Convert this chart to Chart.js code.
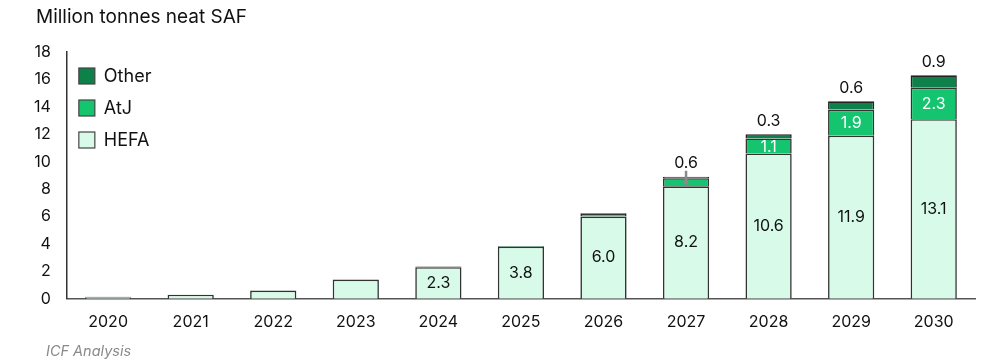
<!DOCTYPE html>
<html>
<head>
<meta charset="utf-8">
<script src="https://cdn.jsdelivr.net/npm/chart.js@4"></script>
<style>
  body { margin: 0; background: #fff; font-family: Inter, sans-serif; }
  #wrap { position: relative; width: 988px; height: 364px; }
  #title { position: absolute; left: 36px; top: 5px; font-size: 19px; color: #111; }
  #source { position: absolute; left: 46px; top: 342px; font-size: 14.5px; font-style: italic; color: #8a8a8a; }
</style>
</head>
<body>
<div id="wrap">
  <canvas id="safChart" width="988" height="364"></canvas>
  <div id="title">Million tonnes neat SAF</div>
  <div id="source">ICF Analysis</div>
</div>
<script>
const years = ['2020', '2021', '2022', '2023', '2024', '2025', '2026', '2027', '2028', '2029', '2030'];
const hefa  = [0.1, 0.3, 0.6, 1.4, 2.3, 3.8, 6.0, 8.2, 10.6, 11.9, 13.1];
const atj   = [0, 0, 0, 0, 0, 0, 0.2, 0.6, 1.1, 1.9, 2.3];
const other = [0.05, 0, 0, 0, 0.05, 0.05, 0.05, 0.1, 0.3, 0.6, 0.9];
const yTicks = [0, 2, 4, 6, 8, 10, 12, 14, 16, 18];

// which values get a label, and where
const hefaShown  = [false, false, false, false, true, true, true, true, true, true, true];
const atjInside  = [false, false, false, false, false, false, false, false, true, true, true];
const atjAbove   = [false, false, false, false, false, false, false, true, false, false, false];
const otherAbove = [false, false, false, false, false, false, false, false, true, true, true];

const FONT = 'Inter, sans-serif';

// data labels drawn on top of the bars
const labelPlugin = {
    id: 'segLabels',
    afterDatasetsDraw(chart) {
        const ctx = chart.ctx;
        const y = chart.scales.y;
        ctx.save();
        ctx.font = '16px ' + FONT;
        ctx.textAlign = 'center';
        ctx.textBaseline = 'middle';
        const mh = chart.getDatasetMeta(0).data;
        const ma = chart.getDatasetMeta(1).data;
        years.forEach((yr, i) => {
            const x = mh[i].x;
            if (hefaShown[i]) {
                ctx.fillStyle = '#111';
                ctx.fillText(hefa[i].toFixed(1), x, (mh[i].y + mh[i].base) / 2);
            }
            if (atjInside[i]) {
                ctx.fillStyle = '#fff';
                ctx.fillText(atj[i].toFixed(1), x, (ma[i].y + ma[i].base) / 2 + 1);
            }
            const top = y.getPixelForValue(hefa[i] + atj[i] + other[i]);
            if (otherAbove[i]) {
                ctx.fillStyle = '#111';
                ctx.fillText(other[i].toFixed(1), x, top - 13);
            }
            if (atjAbove[i]) {
                const mid = (ma[i].y + ma[i].base) / 2;
                ctx.strokeStyle = '#8a8a8a';
                ctx.lineWidth = 2.5;
                ctx.beginPath();
                ctx.moveTo(x, top - 6);
                ctx.lineTo(x, mid);
                ctx.stroke();
                ctx.fillStyle = '#8a8a8a';
                ctx.beginPath();
                ctx.arc(x, mid, 2.5, 0, Math.PI * 2);
                ctx.fill();
                ctx.fillStyle = '#111';
                ctx.fillText(atj[i].toFixed(1), x, top - 14);
            }
        });
        ctx.restore();
    }
};

// legend sitting inside the plot, top-left
const innerLegend = {
    id: 'innerLegend',
    afterDraw(chart) {
        const ctx = chart.ctx;
        const left = chart.chartArea.left + 12;
        const ds = chart.data.datasets.slice().reverse();
        ctx.save();
        ctx.font = '18px ' + FONT;
        ctx.textBaseline = 'middle';
        ds.forEach((d, k) => {
            const cy = 76 + k * 32;
            ctx.fillStyle = d.backgroundColor;
            ctx.fillRect(left, cy - 8, 16, 16);
            ctx.strokeStyle = '#444';
            ctx.lineWidth = 1.2;
            ctx.strokeRect(left, cy - 8, 16, 16);
            ctx.fillStyle = '#111';
            ctx.fillText(d.label, left + 25, cy + 1);
        });
        ctx.restore();
    }
};

new Chart(document.getElementById('safChart'), {
    type: 'bar',
    data: {
        labels: years,
        datasets: [
            { label: 'HEFA', data: hefa, backgroundColor: '#d8fbe9', borderColor: '#333', borderWidth: 1.6 },
            { label: 'AtJ', data: atj, backgroundColor: '#14c46f', borderColor: '#333', borderWidth: 1.6 },
            { label: 'Other', data: other, backgroundColor: '#0e8049', borderColor: '#222', borderWidth: 1.6 }
        ]
    },
    options: {
        responsive: false,
        animation: false,
        barPercentage: 0.56,
        categoryPercentage: 1,
        layout: { padding: { left: 26, right: 13, top: 52, bottom: 26 } },
        scales: {
            x: {
                stacked: true,
                grid: { display: false },
                border: { color: '#555', width: 1.5 },
                ticks: { color: '#111', font: { family: FONT, size: 16 }, padding: 6 }
            },
            y: {
                stacked: true,
                min: 0,
                max: 18,
                afterBuildTicks: (s) => { s.ticks = yTicks.map(v => ({ value: v })); },
                grid: { display: false },
                border: { color: '#333', width: 1.5 },
                ticks: { color: '#111', font: { family: FONT, size: 16 }, padding: 8 }
            }
        },
        plugins: {
            legend: { display: false },
            tooltip: { enabled: false }
        }
    },
    plugins: [labelPlugin, innerLegend]
});
</script>
</body>
</html>
